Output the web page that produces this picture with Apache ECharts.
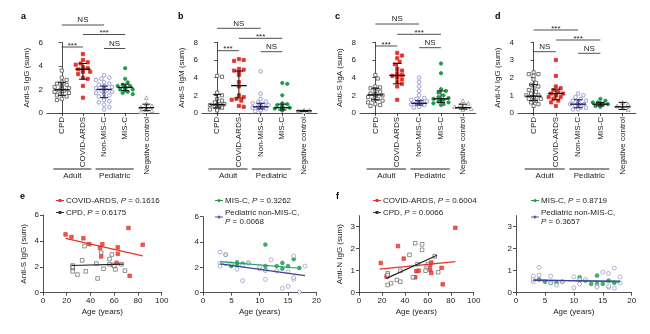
<!DOCTYPE html>
<html><head><meta charset="utf-8">
<script src="https://cdn.jsdelivr.net/npm/echarts@6/dist/echarts.min.js"></script>
<style>html,body{margin:0;padding:0;background:#fff}#c{width:650px;height:334px}</style>
</head><body><div id="c"></div>
<script>
// ---------------- DATA ----------------
const groups = ['CPD', 'COVID-ARDS', 'Non-MIS-C', 'MIS-C', 'Negative control'];
const groupHeaders = ['Adult', 'Pediatric'];

// a: Anti-S IgG (sum)
const aCPD   = [3.6, 3.0, 2.8, 2.6, 2.5, 2.4, 2.3, 2.2, 2.2, 2.1, 2.1, 2.0, 2.0, 1.9, 1.9, 1.8, 1.8, 1.7, 1.6, 1.5, 1.4, 1.2, 1.1];
const aCOVID = [5.0, 4.5, 4.3, 4.2, 4.1, 3.9, 3.8, 3.7, 3.7, 3.6, 3.5, 3.5, 3.3, 3.0, 2.9, 2.3, 1.3];
const aNon   = [3.2, 3.0, 2.9, 2.8, 2.6, 2.5, 2.4, 2.3, 2.3, 2.2, 2.2, 2.1, 2.1, 2.0, 2.0, 2.0, 1.9, 1.9, 1.8, 1.8, 1.7, 1.6, 1.5, 1.4, 1.3, 1.1, 1.0, 0.9, 0.7, 0.5, 0.3];
const aMIS   = [3.8, 2.9, 2.6, 2.4, 2.3, 2.3, 2.2, 2.2, 2.1, 2.1, 2.0, 2.0, 1.9, 1.8, 1.7, 1.6];
const aNeg   = [1.3, 0.8, 0.6, 0.5, 0.4, 0.3, 0.2, 0.1];
const aMed = [1.97, 3.72, 2.0, 2.17, 0.45];
const aLo  = [1.5, 2.87, 1.3, 1.9, 0.2];
const aHi  = [2.6, 4.2, 2.28, 2.45, 0.75];

// b: Anti-S IgM (sum)
const bCPD   = [4.2, 4.1, 2.3, 2.0, 1.6, 1.4, 1.2, 1.0, 1.0, 0.9, 0.9, 0.8, 0.7, 0.7, 0.6, 0.6, 0.5, 0.5, 0.4, 0.3];
const bCOVID = [6.1, 6.0, 5.9, 5.0, 4.9, 4.8, 4.6, 4.3, 3.5, 3.0, 2.0, 1.8, 1.6, 1.5, 1.4, 0.8, 0.7];
const bNon   = [4.7, 2.2, 1.6, 1.3, 1.2, 1.1, 1.0, 0.9, 0.9, 0.8, 0.8, 0.7, 0.7, 0.7, 0.6, 0.6, 0.6, 0.5, 0.5, 0.5, 0.4, 0.4, 0.3, 0.3, 0.2];
const bMIS   = [3.4, 3.3, 2.0, 1.1, 1.0, 0.9, 0.8, 0.7, 0.6, 0.6, 0.5, 0.5, 0.4, 0.4, 0.3, 0.3];
const bNeg   = [0.3, 0.3, 0.25, 0.2, 0.2, 0.2, 0.15];
const bMed = [0.95, 3.1, 0.7, 0.6, 0.25];
const bLo  = [0.57, 1.7, 0.45, 0.35, 0.18];
const bHi  = [2.1, 4.75, 1.1, 1.0, 0.3];

// c: Anti-S IgA (sum)
const cCPD   = [4.3, 3.9, 3.0, 2.9, 2.8, 2.7, 2.5, 2.4, 2.2, 2.1, 2.0, 2.0, 1.9, 1.8, 1.7, 1.6, 1.5, 1.4, 1.2, 1.0, 0.9, 0.8];
const cCOVID = [6.8, 6.5, 6.2, 5.8, 5.5, 5.0, 4.8, 4.5, 4.3, 4.2, 4.2, 4.0, 3.8, 3.5, 3.3, 3.0, 1.5];
const cNon   = [4.0, 3.5, 3.0, 2.5, 2.0, 1.7, 1.6, 1.5, 1.4, 1.3, 1.3, 1.2, 1.2, 1.1, 1.1, 1.0, 1.0, 1.0, 0.9, 0.9, 0.8, 0.8, 0.7, 0.6];
const cMIS   = [5.6, 4.5, 2.7, 2.5, 2.3, 2.0, 1.8, 1.7, 1.6, 1.5, 1.4, 1.3, 1.2, 1.1, 1.0, 0.9];
const cNeg   = [1.4, 1.1, 0.9, 0.7, 0.6, 0.5, 0.5, 0.4];
const cMed = [2.05, 4.25, 1.1, 1.6, 0.6];
const cLo  = [1.5, 3.3, 0.9, 1.2, 0.45];
const cHi  = [2.8, 5.6, 1.4, 2.5, 1.0];

// d: Anti-N IgG (sum)
const dCPD   = [2.3, 2.2, 2.2, 2.1, 1.9, 1.7, 1.6, 1.5, 1.4, 1.3, 1.2, 1.1, 1.0, 1.0, 0.9, 0.9, 0.8, 0.8, 0.7, 0.7, 0.6, 0.5, 0.4];
const dCOVID = [3.0, 2.1, 1.5, 1.4, 1.3, 1.2, 1.1, 1.1, 1.0, 1.0, 0.9, 0.9, 0.8, 0.7, 0.6, 0.4];
const dNon   = [1.1, 1.0, 0.9, 0.8, 0.7, 0.7, 0.6, 0.6, 0.5, 0.5, 0.5, 0.5, 0.4, 0.4, 0.4, 0.3, 0.3, 0.3, 0.2, 0.2];
const dMIS   = [0.8, 0.7, 0.6, 0.6, 0.55, 0.5, 0.5, 0.5, 0.45, 0.45, 0.4, 0.4, 0.4, 0.35];
const dNeg   = [0.6, 0.5, 0.4, 0.3, 0.3, 0.2];
const dMed = [0.95, 1.1, 0.5, 0.5, 0.35];
const dLo  = [0.7, 0.75, 0.3, 0.4, 0.2];
const dHi  = [1.6, 1.35, 0.75, 0.6, 0.6];

// significance comparisons: [group i, group j, label]
const sigABC = [[0, 2, 'NS'], [1, 3, '***'], [0, 1, '***'], [2, 3, 'NS']];
const sigD   = [[0, 2, '***'], [1, 3, '***'], [0, 1, 'NS'], [2, 3, 'NS']];

// e (left): Anti-S IgG vs age, adults
const eCovidAge = [19, 24, 34, 39, 48, 50, 49, 63, 63, 62, 72, 73, 84];
const eCovidVal = [4.5, 4.3, 4.2, 3.75, 3.45, 3.75, 2.8, 3.5, 3.0, 2.3, 5.0, 1.3, 3.7];
const eCpdAge = [25, 25, 25, 25, 29, 33, 35, 36, 45, 46, 49, 51, 56, 56, 58, 59, 60, 61, 66, 69];
const eCpdVal = [2.1, 1.85, 1.65, 2.0, 1.4, 2.5, 3.6, 1.65, 2.25, 1.1, 3.1, 1.85, 2.6, 2.2, 2.95, 2.15, 2.05, 1.8, 2.2, 1.7];
const eCovidFitX = [19, 84], eCovidFitY = [4.2, 2.85];
const eCpdFitX = [24, 68],   eCpdFitY = [2.1, 2.2];
const eLeftP = ['0.1616', '0.6175'];

// e (right): Anti-S IgG vs age, pediatric
const eMisAge = [4, 5, 5, 6, 6, 7, 8, 11, 11, 11, 13, 14, 14, 15, 16, 17];
const eMisVal = [3.0, 2.2, 2.1, 2.4, 2.2, 2.3, 2.35, 3.8, 2.1, 1.8, 2.1, 2.35, 1.9, 2.1, 2.65, 1.95];
const eNonAge = [3, 3, 3, 4, 4, 5, 6, 7, 7, 8, 10, 10, 11, 11, 12, 13, 14, 15, 15, 16, 16, 16, 17, 18];
const eNonVal = [3.2, 2.3, 2.1, 3.0, 2.3, 2.3, 1.85, 0.95, 2.15, 2.35, 1.9, 2.05, 1.05, 1.75, 2.6, 1.7, 0.35, 0.5, 1.65, 2.9, 1.05, 1.2, 0.05, 2.1];
const eMisFitX = [3, 17], eMisFitY = [2.45, 1.93];
const eNonFitX = [3, 18], eNonFitY = [2.27, 1.35];
const eRightP = ['0.3262', '0.0068'];

// f (left): Anti-N IgG vs age, adults
const fCovidAge = [19, 24, 34, 39, 49, 50, 52, 62, 62, 63, 63, 72, 73, 84];
const fCovidVal = [1.35, 0.73, 2.12, 1.55, 0.7, 0.98, 1.0, 1.25, 1.05, 0.9, 1.37, 1.13, 0.38, 2.95];
const fCpdAge = [25, 25, 25, 28, 33, 36, 36, 44, 47, 49, 51, 55, 55, 58, 59, 60, 66, 69];
const fCpdVal = [0.88, 0.8, 0.35, 0.43, 0.58, 0.5, 1.0, 1.72, 0.7, 2.25, 1.3, 1.95, 2.2, 1.0, 1.2, 1.3, 1.65, 0.93];
const fCovidFitX = [18, 84], fCovidFitY = [1.07, 1.41];
const fCpdFitX = [24, 68],   fCpdFitY = [0.65, 1.7];
const fLeftP = ['0.6004', '0.0066'];

// f (right): Anti-N IgG vs age, pediatric
const fMisAge = [4, 5, 6, 7, 8, 11, 11, 12, 13, 14, 14, 15, 16, 17];
const fMisVal = [0.6, 0.5, 0.45, 0.45, 0.5, 0.7, 0.55, 0.55, 0.4, 0.78, 0.4, 0.4, 0.55, 0.45];
const fNonAge = [3, 3, 3, 4, 4, 6, 6, 7, 8, 10, 10, 11, 11, 12, 14, 14, 15, 16, 16, 16, 17, 17, 18, 18];
const fNonVal = [0.75, 0.5, 0.6, 1.15, 0.8, 0.75, 0.45, 0.35, 0.5, 0.72, 0.22, 0.6, 0.4, 0.6, 0.3, 0.25, 0.93, 0.87, 0.25, 0.3, 1.12, 0.2, 0.72, 0.45];
const fMisFitX = [3, 18], fMisFitY = [0.6, 0.48];
const fNonFitX = [3, 18], fNonFitY = [0.56, 0.53];
const fRightP = ['0.8719', '0.3657'];

// ---------------- STYLE / LAYOUT ----------------
const FONT = '"Liberation Sans", Arial, Helvetica, sans-serif';
const INK = '#222';
const RED = '#e2332b', GREEN = '#1f9a4c', PURPLE = '#8a86c6', NAVY = '#3d3f95', GREY = '#555';
const groupStyle = [
  { symbol: 'rect', color: '#fff', border: GREY, size: 3.2, legend: '#333' },
  { symbol: 'rect', color: RED, border: RED, size: 3.2, legend: RED },
  { symbol: 'circle', color: '#fff', border: PURPLE, size: 3.6, legend: '#5a5aa8' },
  { symbol: 'circle', color: GREEN, border: GREEN, size: 3.4, legend: GREEN },
  { symbol: 'triangle', color: '#fff', border: '#999', size: 3.8, legend: '#999' }
];
const barColor = ['#111', '#111', '#1b1b55', '#111', '#111'];
const ICON_RECT = 'path://M0,5 L6.5,5 L6.5,7 L0,7 Z M13.5,5 L20,5 L20,7 L13.5,7 Z M6.5,2.5 L13.5,2.5 L13.5,9.5 L6.5,9.5 Z';
const ICON_CIRC = 'path://M0,5 L6.5,5 L6.5,7 L0,7 Z M13.5,5 L20,5 L20,7 L13.5,7 Z M6.2,6 A3.8,3.8 0 1 1 13.8,6 A3.8,3.8 0 1 1 6.2,6 Z';

const topPanels = [
  { letter: 'a', yName: 'Anti-S IgG (sum)', yMax: 6, yInt: 2, sets: [aCPD, aCOVID, aNon, aMIS, aNeg], med: aMed, lo: aLo, hi: aHi, sig: sigABC,
    left: 47, width: 112, sigY: [25, 34.5, 47, 48.5], letterX: 21 },
  { letter: 'b', yName: 'Anti-S IgM (sum)', yMax: 8, yInt: 2, sets: [bCPD, bCOVID, bNon, bMIS, bNeg], med: bMed, lo: bLo, hi: bHi, sig: sigABC,
    left: 202, width: 115, sigY: [28.3, 38.3, 50.7, 51.7], letterX: 178 },
  { letter: 'c', yName: 'Anti-S IgA (sum)', yMax: 8, yInt: 2, sets: [cCPD, cCOVID, cNon, cMIS, cNeg], med: cMed, lo: cLo, hi: cHi, sig: sigABC,
    left: 360, width: 116, sigY: [24, 34.3, 46, 47.7], letterX: 335 },
  { letter: 'd', yName: 'Anti-N IgG (sum)', yMax: 4, yInt: 1, sets: [dCPD, dCOVID, dNon, dMIS, dNeg], med: dMed, lo: dLo, hi: dHi, sig: sigD,
    left: 518, width: 118, sigY: [30, 40, 51.7, 53.3], letterX: 495 }
];
const TOP_Y = 42.3, TOP_H = 70.7, XMIN = -0.7, XMAX = 4.6;

const botPanels = [
  { yName: 'Anti-S IgG (sum)', left: 43, top: 215, width: 118.7, height: 77.7, xMax: 100, xInt: 20, yMax: 6, yTicks: [0, 2, 4, 6],
    sets: [
      { name: 'COVID-ARDS', age: eCovidAge, val: eCovidVal, fx: eCovidFitX, fy: eCovidFitY, st: 1, line: RED },
      { name: 'CPD', age: eCpdAge, val: eCpdVal, fx: eCpdFitX, fy: eCpdFitY, st: 0, line: '#222' }],
    p: eLeftP, legLeft: 56, letter: 'e', letterX: 20 },
  { yName: '', left: 203, top: 216.7, width: 113.4, height: 76, xMax: 20, xInt: 5, yMax: 6, yTicks: [0, 2, 4, 6],
    sets: [
      { name: 'MIS-C', age: eMisAge, val: eMisVal, fx: eMisFitX, fy: eMisFitY, st: 3, line: '#22a06b' },
      { name: 'Pediatric non-MIS-C', age: eNonAge, val: eNonVal, fx: eNonFitX, fy: eNonFitY, st: 2, line: NAVY }],
    p: eRightP, legLeft: 215 },
  { yName: 'Anti-N IgG (sum)', left: 359, top: 215.7, width: 114.7, height: 77, xMax: 100, xInt: 20, yMax: 3.5, yTicks: [0, 1, 2, 3],
    sets: [
      { name: 'COVID-ARDS', age: fCovidAge, val: fCovidVal, fx: fCovidFitX, fy: fCovidFitY, st: 1, line: RED },
      { name: 'CPD', age: fCpdAge, val: fCpdVal, fx: fCpdFitX, fy: fCpdFitY, st: 0, line: '#222' }],
    p: fLeftP, legLeft: 373, letter: 'f', letterX: 336 },
  { yName: '', left: 516, top: 215.7, width: 115.7, height: 77, xMax: 20, xInt: 5, yMax: 3.5, yTicks: [0, 1, 2, 3],
    sets: [
      { name: 'MIS-C', age: fMisAge, val: fMisVal, fx: fMisFitX, fy: fMisFitY, st: 3, line: '#22a06b' },
      { name: 'Pediatric non-MIS-C', age: fNonAge, val: fNonVal, fx: fNonFitX, fy: fNonFitY, st: 2, line: NAVY }],
    p: fRightP, legLeft: 531 }
];

// beeswarm-like horizontal spread (layout only, computed from values)
function swarm(vals, pxPerUnit, pxPerCat, size) {
  const order = vals.map((v, i) => i).sort((a, b) => vals[b] - vals[a]);
  const placed = [];
  const off = new Array(vals.length).fill(0);
  order.forEach(i => {
    const y = vals[i] * pxPerUnit;
    for (let k = 0; k < 30; k++) {
      const cand = (k % 2 ? 1 : -1) * Math.ceil(k / 2) * size * 0.6;
      if (Math.abs(cand) > pxPerCat * 0.42) continue;
      if (placed.every(p => Math.hypot(p.x - cand, p.y - y) >= size)) {
        off[i] = cand / pxPerCat; placed.push({ x: cand, y }); break;
      }
      if (k === 29) { off[i] = 0; placed.push({ x: 0, y }); }
    }
  });
  return off;
}

const axisLine = { show: true, lineStyle: { color: INK, width: 0.8 } };
const axisTick = { show: true, length: 3, lineStyle: { color: INK, width: 0.8 } };
const lbl = { color: INK, fontSize: 8, fontFamily: FONT };

const grid = [], xAxis = [], yAxis = [], series = [], legend = [], graphicBase = [];

topPanels.forEach((p, k) => {
  grid.push({ left: p.left, top: TOP_Y, width: p.width, height: TOP_H });
  xAxis.push({
    type: 'value', gridIndex: k, min: XMIN, max: XMAX, splitLine: { show: false },
    axisLine, axisTick: Object.assign({}, axisTick, { customValues: [0, 1, 2, 3, 4] }),
    axisLabel: Object.assign({}, lbl, { rotate: 90, margin: 4, customValues: [0, 1, 2, 3, 4], formatter: v => groups[Math.round(v)] })
  });
  yAxis.push({
    type: 'value', gridIndex: k, min: 0, max: p.yMax, interval: p.yInt, splitLine: { show: false },
    axisLine, axisTick, axisLabel: Object.assign({}, lbl, { margin: 4 }),
    name: p.yName, nameLocation: 'middle', nameGap: 16, nameTextStyle: { color: INK, fontSize: 8, fontFamily: FONT }
  });
  const pxPerUnit = TOP_H / p.yMax, pxPerCat = p.width / (XMAX - XMIN);
  p.sets.forEach((vals, g) => {
    const st = groupStyle[g];
    const off = swarm(vals, pxPerUnit, pxPerCat, st.size + 0.8);
    series.push({
      type: 'scatter', name: p.letter + ':' + groups[g], xAxisIndex: k, yAxisIndex: k,
      symbol: st.symbol, symbolSize: st.size, clip: false, silent: true,
      itemStyle: { color: st.color, borderColor: st.border, borderWidth: 0.8, opacity: 1 },
      data: vals.map((v, i) => [g + off[i], v]), z: 2
    });
  });
  series.push({
    type: 'custom', xAxisIndex: k, yAxisIndex: k, silent: true, z: 5,
    data: p.med.map((m, i) => [i, m, p.lo[i], p.hi[i]]),
    encode: { x: 0, y: [1, 2, 3] },
    renderItem: (params, api) => {
      const i = api.value(0);
      const c = api.coord([i, api.value(1)]);
      const l = api.coord([i, api.value(2)]);
      const h = api.coord([i, api.value(3)]);
      const cw = api.size([1, 0])[0];
      const col = barColor[i];
      const ln = (x1, y1, x2, y2, w) => ({ type: 'line', shape: { x1, y1, x2, y2 }, style: { stroke: col, lineWidth: w } });
      return { type: 'group', children: [
        ln(c[0] - cw * 0.36, c[1], c[0] + cw * 0.36, c[1], 1.4),
        ln(c[0], l[1], c[0], h[1], 1),
        ln(c[0] - cw * 0.19, l[1], c[0] + cw * 0.19, l[1], 1),
        ln(c[0] - cw * 0.19, h[1], c[0] + cw * 0.19, h[1], 1)
      ] };
    }
  });
  graphicBase.push({ type: 'text', left: p.letterX, top: 12, style: { text: p.letter, font: 'bold 9px ' + FONT, fill: '#000' } });
});

botPanels.forEach((p, j) => {
  const k = 4 + j;
  grid.push({ left: p.left, top: p.top, width: p.width, height: p.height });
  xAxis.push({
    type: 'value', gridIndex: k, min: 0, max: p.xMax, interval: p.xInt, splitLine: { show: false },
    axisLine, axisTick, axisLabel: Object.assign({}, lbl, { margin: 4 }),
    name: 'Age (years)', nameLocation: 'middle', nameGap: 15, nameTextStyle: { color: INK, fontSize: 8, fontFamily: FONT }
  });
  yAxis.push({
    type: 'value', gridIndex: k, min: 0, max: p.yMax, splitLine: { show: false },
    axisLine, axisTick: Object.assign({}, axisTick, { customValues: p.yTicks }),
    axisLabel: Object.assign({}, lbl, { margin: 4, customValues: p.yTicks }),
    name: p.yName, nameLocation: 'middle', nameGap: 15, nameTextStyle: { color: INK, fontSize: 8, fontFamily: FONT }
  });
  const pmap = {};
  p.sets.forEach((s, si) => {
    const st = groupStyle[s.st];
    pmap[s.name] = p.p[si];
    series.push({
      type: 'line', name: s.name, xAxisIndex: k, yAxisIndex: k, silent: true, z: 4,
      showSymbol: false, symbol: 'none',
      itemStyle: { color: s.line },
      lineStyle: { color: s.line, width: 1.2 },
      data: s.fx.map((x, i) => [x, s.fy[i]])
    });
    series.push({
      type: 'scatter', name: 'pts' + k + '-' + si, xAxisIndex: k, yAxisIndex: k, silent: true, z: 2,
      symbol: st.symbol, symbolSize: st.size + 0.4, clip: false,
      itemStyle: { color: st.color, borderColor: st.border, borderWidth: 0.8 },
      data: s.age.map((a, i) => [a, s.val[i]])
    });
  });
  legend.push({
    left: p.legLeft, top: 196, orient: 'vertical', itemWidth: 8, itemHeight: 5, itemGap: 3,
    selectedMode: false, padding: 0,
    data: p.sets.map(s => {
      const st = groupStyle[s.st];
      return { name: s.name, icon: st.symbol === 'rect' ? ICON_RECT : ICON_CIRC,
        itemStyle: { color: st.legend, borderWidth: 0 } };
    }),
    formatter: name => (name === 'Pediatric non-MIS-C' ? name + ',\n{i|P} = ' : name + ', {i|P} = ') + pmap[name],
    textStyle: { color: INK, fontSize: 8, fontFamily: FONT, lineHeight: 9, padding: [0, 0, 0, -3],
      rich: { i: { fontStyle: 'italic', fontSize: 8, fontFamily: FONT, color: INK } } }
  });
  if (p.letter) graphicBase.push({ type: 'text', left: p.letterX, top: 192, style: { text: p.letter, font: 'bold 9px ' + FONT, fill: '#000' } });
});

const chart = echarts.init(document.getElementById('c'), null, { renderer: 'canvas' });
chart.setOption({ animation: false, backgroundColor: '#fff', grid, xAxis, yAxis, series, legend, graphic: graphicBase });

// significance bars and group brackets, positioned through the axes
const extra = [];
topPanels.forEach((p, k) => {
  const px = v => chart.convertToPixel({ xAxisIndex: k }, v);
  p.sig.forEach((s, r) => {
    const x1 = px(s[0]), x2 = px(s[1]), y = p.sigY[r];
    extra.push({ type: 'line', shape: { x1, y1: y, x2, y2: y }, style: { stroke: INK, lineWidth: 0.8 }, silent: true });
    const isStar = s[2] === '***';
    extra.push({ type: 'text', x: (x1 + x2) / 2, y: isStar ? y + 2.5 : y - 0.8, silent: true,
      style: { text: s[2], fontSize: 8, fontFamily: FONT, fill: INK, align: 'center', verticalAlign: 'bottom' } });
  });
  [[0, 1], [2, 3]].forEach((pair, gi) => {
    const x1 = px(pair[0] - 0.4), x2 = px(pair[1] + 0.4), y = 169;
    extra.push({ type: 'line', shape: { x1, y1: y, x2, y2: y }, style: { stroke: INK, lineWidth: 1 }, silent: true });
    extra.push({ type: 'text', x: (x1 + x2) / 2, y: 176, silent: true,
      style: { text: groupHeaders[gi], fontSize: 8, fontFamily: FONT, fill: INK, align: 'center', verticalAlign: 'middle' } });
  });
});
chart.setOption({ graphic: graphicBase.concat(extra) });
</script>
</body></html>
